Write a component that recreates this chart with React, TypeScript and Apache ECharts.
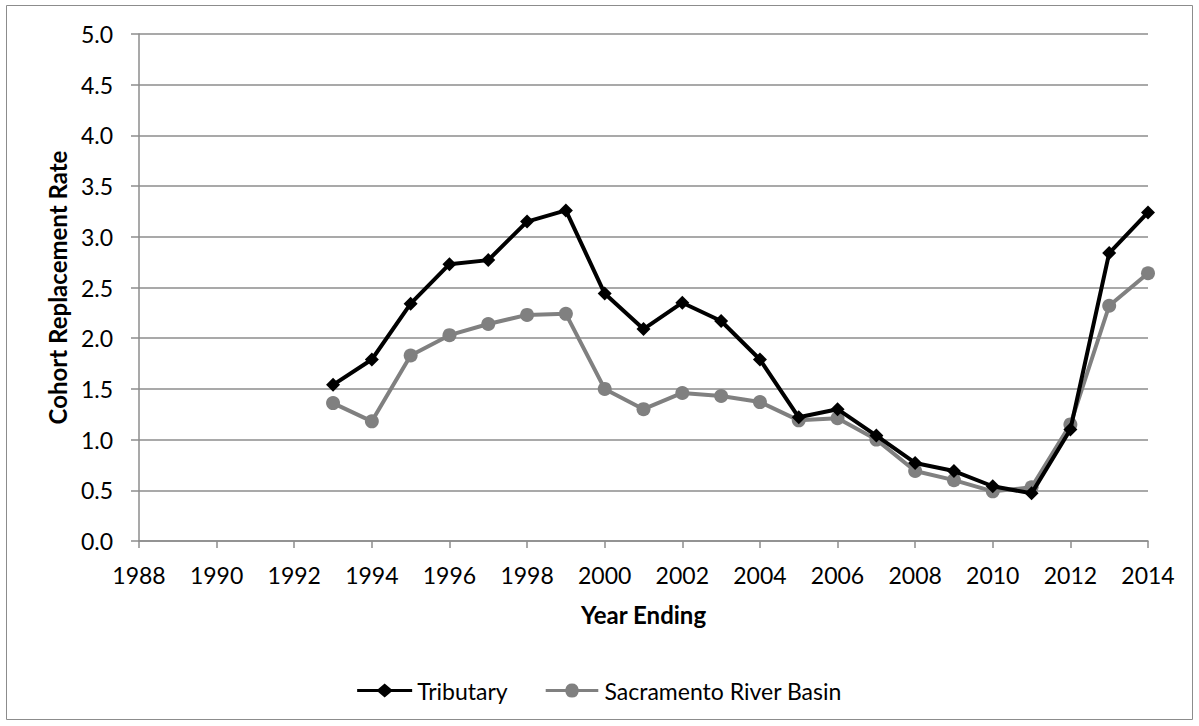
import React, { useEffect, useRef } from "react";
import * as echarts from "echarts";

const years = [1993, 1994, 1995, 1996, 1997, 1998, 1999, 2000, 2001, 2002, 2003, 2004, 2005, 2006, 2007, 2008, 2009, 2010, 2011, 2012, 2013, 2014];
const tributary = [1.54, 1.79, 2.34, 2.73, 2.77, 3.15, 3.26, 2.44, 2.09, 2.35, 2.17, 1.79, 1.22, 1.30, 1.04, 0.77, 0.69, 0.54, 0.47, 1.10, 2.84, 3.24];
const sacramento = [1.36, 1.18, 1.83, 2.03, 2.14, 2.23, 2.24, 1.50, 1.30, 1.46, 1.43, 1.37, 1.19, 1.21, 1.00, 0.69, 0.60, 0.49, 0.53, 1.15, 2.32, 2.64];

const FONT = "Lato, 'Open Sans', sans-serif";

const DIAMOND_ICON = "path://M0,5.5 H21 L27.5,0 L34,5.5 H55 V8.5 H34 L27.5,14 L21,8.5 H0 Z";
const CIRCLE_ICON = "path://M0,5.5 H20.6 A7,7 0 0 1 34.4,5.5 H55 V8.5 H34.4 A7,7 0 0 1 20.6,8.5 H0 Z";

export default function App() {
  const ref = useRef<HTMLDivElement>(null);
  useEffect(() => {
    const chart = echarts.init(ref.current!, null, { renderer: "svg" });
    chart.setOption({
      animation: false,
      backgroundColor: "#fff",
      textStyle: { fontFamily: FONT },
      graphic: [
        {
          type: "rect",
          shape: { x: 6.5, y: 5.5, width: 1186, height: 714 },
          style: { fill: "none", stroke: "#8c8c8c", lineWidth: 1 },
          silent: true,
        },
      ],
      grid: { left: 139, right: 51, top: 34, bottom: 185 },
      legend: {
        top: 674,
        left: "center",
        itemWidth: 55,
        itemHeight: 14,
        itemGap: 38,
        textStyle: { fontFamily: FONT, fontSize: 23, color: "#000" },
        data: [
          { name: "Tributary", icon: DIAMOND_ICON, itemStyle: { color: "#000" } },
          { name: "Sacramento River Basin", icon: CIRCLE_ICON, itemStyle: { color: "#808080" } },
        ],
      },
      xAxis: {
        type: "value",
        min: 1988,
        max: 2014,
        interval: 2,
        name: "Year Ending",
        nameLocation: "middle",
        nameGap: 61,
        nameTextStyle: { fontFamily: FONT, fontSize: 24, fontWeight: "bold", color: "#000" },
        axisLine: { lineStyle: { color: "#8c8c8c", width: 1.5 } },
        axisTick: { show: true, length: 7, lineStyle: { color: "#8c8c8c", width: 1.5 } },
        axisLabel: { fontFamily: FONT, fontSize: 23, color: "#000", margin: 22, formatter: (v: number) => String(v) },
        splitLine: { show: false },
      },
      yAxis: {
        type: "value",
        min: 0,
        max: 5,
        interval: 0.5,
        name: "Cohort Replacement Rate",
        nameLocation: "middle",
        nameGap: 70,
        nameRotate: 90,
        nameTextStyle: { fontFamily: FONT, fontSize: 24, fontWeight: "bold", color: "#000" },
        axisLine: { show: true, lineStyle: { color: "#8c8c8c", width: 1.5 } },
        axisTick: { show: true, length: 8, lineStyle: { color: "#8c8c8c", width: 1.5 } },
        axisLabel: { fontFamily: FONT, fontSize: 23, color: "#000", margin: 26, formatter: (v: number) => v.toFixed(1) },
        splitLine: { show: true, lineStyle: { color: "#8c8c8c", width: 1.5 } },
      },
      series: [
        {
          name: "Tributary",
          type: "line",
          data: years.map((y, i) => [y, tributary[i]]),
          symbol: "diamond",
          symbolSize: 14,
          itemStyle: { color: "#000" },
          lineStyle: { color: "#000", width: 4 },
          z: 3,
        },
        {
          name: "Sacramento River Basin",
          type: "line",
          data: years.map((y, i) => [y, sacramento[i]]),
          symbol: "circle",
          symbolSize: 14,
          itemStyle: { color: "#808080" },
          lineStyle: { color: "#808080", width: 4 },
          z: 2,
        },
      ],
    });
    return () => chart.dispose();
  }, []);
  return <div ref={ref} style={{ position: "absolute", left: 0, top: 0, width: 1199, height: 726 }} />;
}
